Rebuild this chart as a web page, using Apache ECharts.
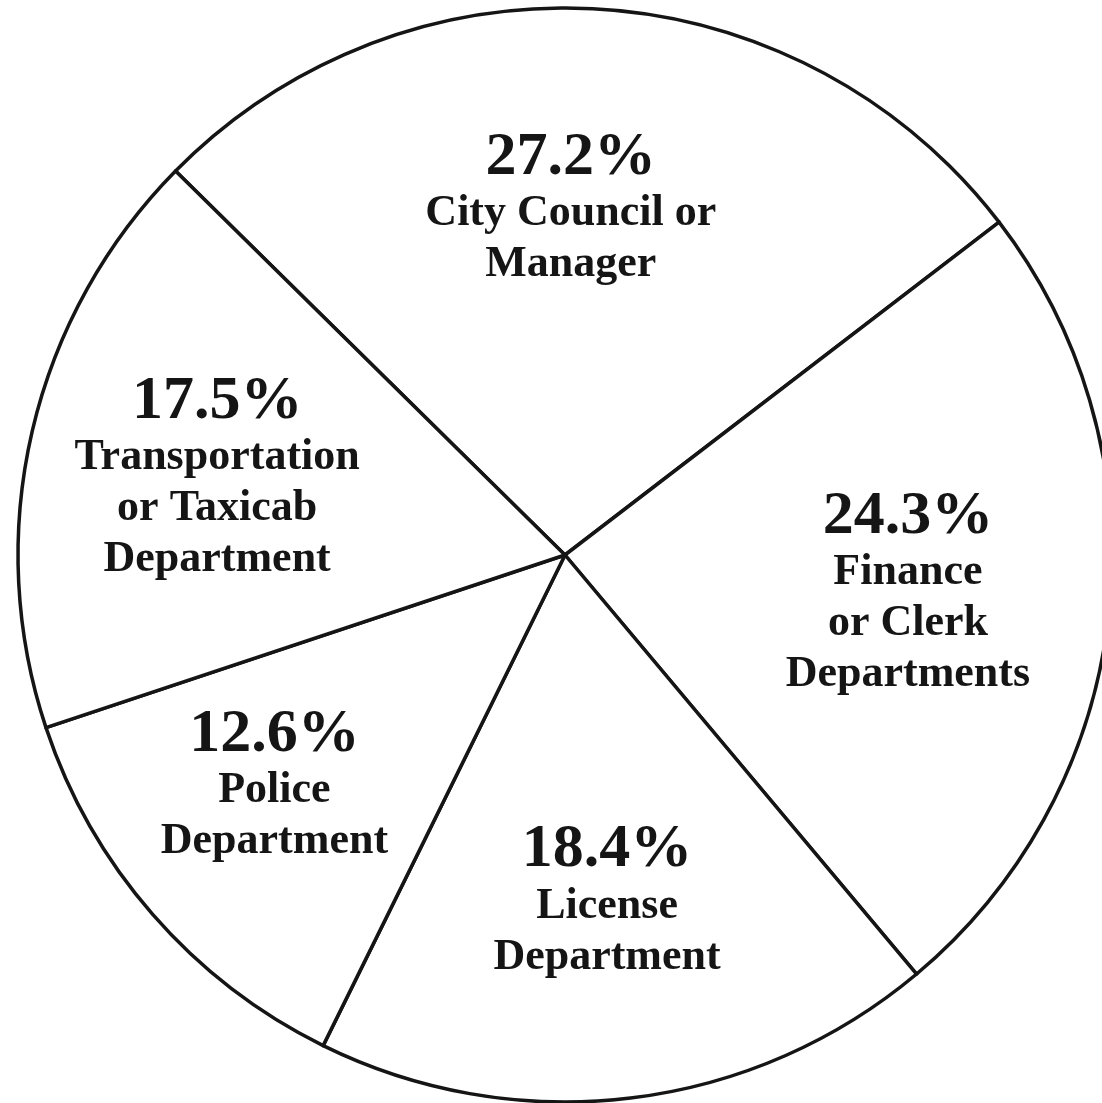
<!DOCTYPE html>
<html>
<head>
<meta charset="utf-8">
<style>
  html, body { margin: 0; padding: 0; background: #ffffff; }
  #chart { width: 1102px; height: 1103px; }
</style>
<script src="https://cdn.jsdelivr.net/npm/echarts@6/dist/echarts.min.js"></script>
</head>
<body>
<div id="chart"></div>
<script>
// Share of responses by department (percent)
const departments = [
  'City Council or\nManager',
  'Finance\nor Clerk\nDepartments',
  'License\nDepartment',
  'Police\nDepartment',
  'Transportation\nor Taxicab\nDepartment'
];
const shares = [27.2, 24.3, 18.4, 12.6, 17.5];

const ink = '#151515';
const pieData = departments.map((name, i) => ({ name: name, value: shares[i] }));

// small hand-set nudges so each text block sits comfortably inside its wedge
const labelNudge = [[-16, 4], [-6, 0], [0, -2], [-26, 0], [-6, 3]];

const chart = echarts.init(document.getElementById('chart'), null, { renderer: 'canvas' });

const center = [565, 555];
const outerR = 547;

chart.setOption({
  backgroundColor: '#ffffff',
  animation: false,
  series: [
    {
      // the wedges and their outlines
      type: 'pie',
      center: center,
      radius: [0, outerR],
      startAngle: 135.4,
      clockwise: true,
      silent: true,
      data: pieData,
      label: { show: false },
      labelLine: { show: false },
      itemStyle: { color: '#ffffff', borderColor: ink, borderWidth: 3.5 },
      emphasis: { disabled: true }
    },
    {
      // an invisible ring that carries the wedge labels further out from the hub
      type: 'pie',
      center: center,
      radius: [149, outerR],
      startAngle: 135.4,
      clockwise: true,
      silent: true,
      data: pieData,
      itemStyle: { color: 'rgba(0,0,0,0)', borderWidth: 0 },
      labelLine: { show: false },
      emphasis: { disabled: true },
      labelLayout: p => ({ dx: labelNudge[p.dataIndex][0], dy: labelNudge[p.dataIndex][1] }),
      label: {
        show: true,
        position: 'inside',
        align: 'center',
        formatter: p => {
          const lines = p.name.split('\n').map(t => '{n|' + t + '}').join('\n');
          return '{p|' + p.value.toFixed(1) + '%}\n' + lines;
        },
        rich: {
          p: {
            fontFamily: 'Liberation Serif',
            fontWeight: 'bold',
            fontSize: 62,
            lineHeight: 61,
            color: ink,
            align: 'center'
          },
          n: {
            fontFamily: 'Liberation Serif',
            fontWeight: 'bold',
            fontSize: 44,
            lineHeight: 51,
            color: ink,
            align: 'center'
          }
        }
      }
    }
  ]
});
</script>
</body>
</html>
